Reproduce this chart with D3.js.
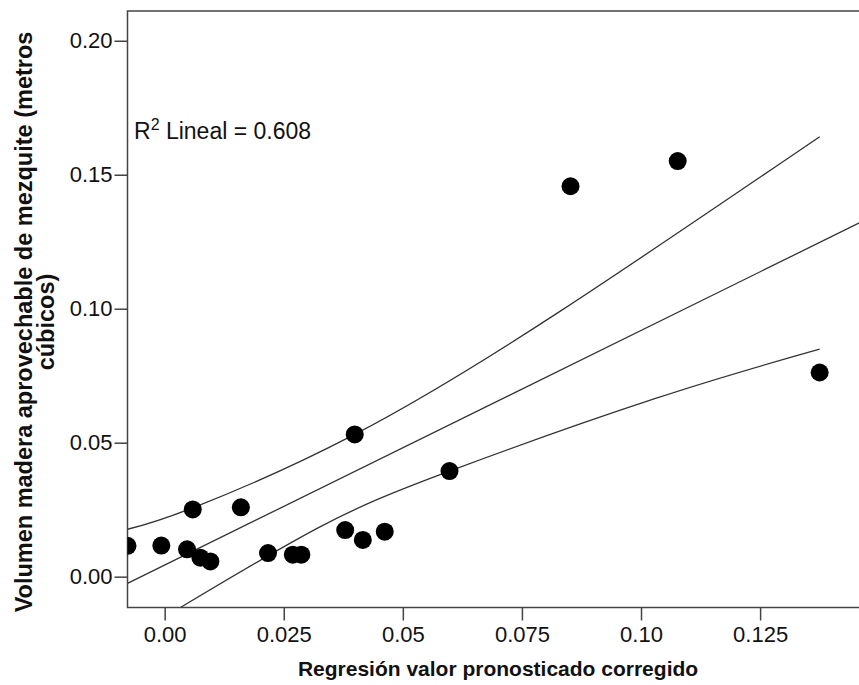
<!DOCTYPE html>
<html>
<head>
<meta charset="utf-8">
<script src="https://cdn.jsdelivr.net/npm/d3@7"></script>
<style>
  body { margin: 0; background: #fff; }
  text { font-family: "Liberation Sans", Arial, sans-serif; fill: #111; }
</style>
</head>
<body>
<svg id="chart" width="859" height="685"></svg>
<script>
// data: predicted value vs usable mesquite volume
var predicted = [-0.0078, -0.0007, 0.0059, 0.0047, 0.0075, 0.0096, 0.0160, 0.0217, 0.0269,
                 0.0287, 0.0379, 0.0399, 0.0416, 0.0462, 0.0598, 0.0852, 0.1077, 0.1375];
var volume    = [0.0115, 0.0116, 0.0251, 0.0102, 0.0071, 0.0057, 0.0259, 0.0088, 0.0082,
                 0.0082, 0.0174, 0.0531, 0.0137, 0.0168, 0.0394, 0.1457, 0.1551, 0.0762];

// fit line and 95% band
var fitX   = [-0.0078, 0.1466];
var fitY   = [-0.0025, 0.1327];
var upperX = [-0.0078, 0.0059, 0.0399, 0.0829, 0.1375];
var upperY = [0.0177, 0.0257, 0.0531, 0.0989, 0.1642];
var lowerX = [0.0034, 0.0325, 0.0598, 0.1032, 0.1375];
var lowerY = [-0.0114, 0.0185, 0.0394, 0.0666, 0.0849];

var xTicks = [0, 0.025, 0.05, 0.075, 0.10, 0.125];
var xTickLabels = ["0.00", "0.025", "0.05", "0.075", "0.10", "0.125"];
var yTicks = [0, 0.05, 0.10, 0.15, 0.20];
var yTickLabels = ["0.00", "0.05", "0.10", "0.15", "0.20"];
var r2Text = "0.608";

var svg = d3.select("#chart");

var plotLeft = 127.5, plotTop = 11, plotRight = 863, plotBottom = 607.5;

// ---------------------------//
//       AXIS  AND SCALE      //
// ---------------------------//

var x = d3.scaleLinear()
    .domain([-0.0078, 0.1466])
    .range([plotLeft, plotRight]);

var y = d3.scaleLinear()
    .domain([-0.0115, 0.2111])
    .range([plotBottom, plotTop]);

svg.append("defs").append("clipPath")
    .attr("id", "plotClip")
    .append("rect")
    .attr("x", plotLeft).attr("y", plotTop)
    .attr("width", plotRight - plotLeft).attr("height", plotBottom - plotTop);

svg.append("g")
    .attr("transform", "translate(0," + plotBottom + ")")
    .call(d3.axisBottom(x)
        .tickValues(xTicks)
        .tickFormat(function(d, i) { return xTickLabels[i]; })
        .tickSize(13)
        .tickPadding(6));

svg.append("g")
    .attr("transform", "translate(" + plotLeft + ",0)")
    .call(d3.axisLeft(y)
        .tickValues(yTicks)
        .tickFormat(function(d, i) { return yTickLabels[i]; })
        .tickSize(13)
        .tickPadding(2));

svg.selectAll(".domain").remove();
svg.selectAll(".tick line").attr("stroke", "#444").attr("stroke-width", 1.5);
svg.selectAll(".tick text")
    .style("font-size", "22px")
    .attr("fill", "#111");

// frame
svg.append("rect")
    .attr("x", plotLeft).attr("y", plotTop)
    .attr("width", plotRight - plotLeft).attr("height", plotBottom - plotTop)
    .attr("fill", "none")
    .attr("stroke", "#444")
    .attr("stroke-width", 1.5);

// axis titles
svg.append("text")
    .attr("x", 498)
    .attr("y", 676)
    .attr("text-anchor", "middle")
    .style("font-size", "21px")
    .style("font-weight", "bold")
    .text("Regresión valor pronosticado corregido");

var yTitle = svg.append("text")
    .attr("transform", "rotate(-90)")
    .attr("text-anchor", "middle")
    .style("font-size", "23.5px")
    .style("font-weight", "bold");
yTitle.append("tspan")
    .attr("x", -322).attr("y", 32)
    .text("Volumen madera aprovechable de mezquite (metros");
yTitle.append("tspan")
    .attr("x", -322).attr("y", 54)
    .text("cúbicos)");

// ---------------------------//
//       FIT  AND  BAND       //
// ---------------------------//

var plot = svg.append("g").attr("clip-path", "url(#plotClip)");

function pairs(xs, ys) { return xs.map(function(v, i) { return [v, ys[i]]; }); }

var lineGen = d3.line()
    .x(function(d) { return x(d[0]); })
    .y(function(d) { return y(d[1]); })
    .curve(d3.curveNatural);

[pairs(fitX, fitY), pairs(upperX, upperY), pairs(lowerX, lowerY)].forEach(function(pts) {
    plot.append("path")
        .attr("d", lineGen(pts))
        .attr("fill", "none")
        .attr("stroke", "#333")
        .attr("stroke-width", 1.3);
});

// ---------------------------//
//       CIRCLES              //
// ---------------------------//

plot.selectAll("circle.dot")
    .data(predicted)
    .enter()
    .append("circle")
    .attr("class", "dot")
    .attr("cx", function(d) { return x(d); })
    .attr("cy", function(d, i) { return y(volume[i]); })
    .attr("r", 9)
    .attr("fill", "#000");

// R2 label
var r2 = svg.append("text")
    .attr("x", 134)
    .attr("y", 139)
    .style("font-size", "23px");
r2.append("tspan").text("R");
r2.append("tspan").attr("dy", -9).style("font-size", "16px").text("2");
r2.append("tspan").attr("dy", 9).text(" Lineal = " + r2Text);
</script>
</body>
</html>
